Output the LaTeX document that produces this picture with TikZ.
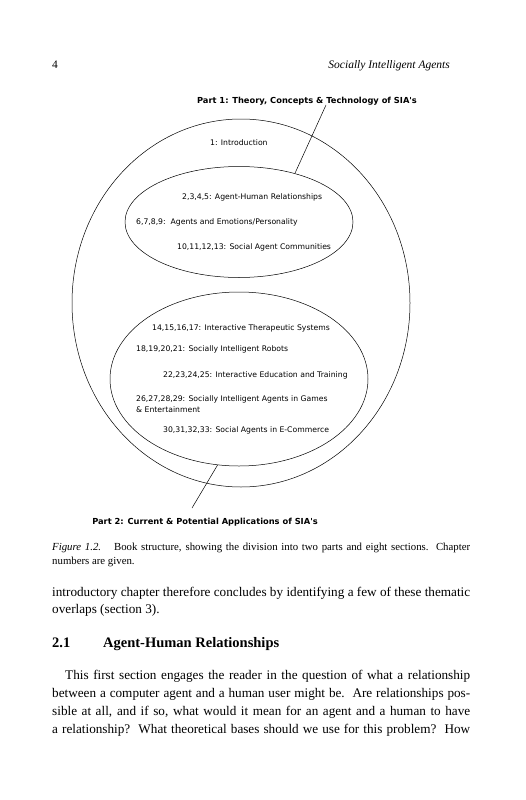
\documentclass[tikz,border=0pt]{standalone}
\usepackage{fontspec}
\setmainfont{Liberation Serif}
\newfontfamily\sketchfont{DejaVu Sans}
\usetikzlibrary{shapes.geometric}
\tikzset{
  oval/.style={draw,ellipse,inner sep=0pt,line width=0.5pt},
  parttitle/.style={font=\sketchfont\bfseries\fontsize{8.3}{10}\selectfont,inner sep=0pt},
  chap/.style={font=\sketchfont\fontsize{7.7}{11}\selectfont,inner sep=0pt,anchor=west,align=left},
  txt/.style={inner sep=0pt,anchor=base west,font=\fontsize{13.2}{15}\selectfont},
  captext/.style={inner sep=0pt,anchor=base west,font=\fontsize{10.8}{12}\selectfont},
}
\begin{document}
\begin{tikzpicture}[x=1pt,y=-1pt]
    \useasboundingbox (0,0) rectangle (525,800);
    \node[txt,font=\fontsize{11.5}{14}\selectfont] (pg) at (52,69) {4};
    \node[txt,font=\fontsize{11.5}{14}\selectfont,anchor=base east] (run) at (450,69) {\itshape Socially Intelligent Agents};
    \node[oval,minimum width=338,minimum height=368] (book) at (241,303) {};
    \node[oval,minimum width=228,minimum height=111] (part1oval) at (239,222) {};
    \node[oval,minimum width=258,minimum height=174] (part2oval) at (239,379) {};
    \node[parttitle] (p1) at (307,101) {Part 1: Theory, Concepts \& Technology of SIA's};
    \node[chap] (c1) at (210,143) {1: Introduction};
    \node[chap] (c2) at (182,197) {2,3,4,5: Agent-Human Relationships};
    \node[chap] (c6) at (136,222) {6,7,8,9:\ \ Agents and Emotions/Personality};
    \node[chap] (c10) at (177,247) {10,11,12,13: Social Agent Communities};
    \node[chap] (c14) at (152,328) {14,15,16,17: Interactive Therapeutic Systems};
    \node[chap] (c18) at (136,349) {18,19,20,21: Socially Intelligent Robots};
    \node[chap] (c22) at (163,375) {22,23,24,25: Interactive Education and Training};
    \node[chap] (c26) at (136,404) {26,27,28,29: Socially Intelligent Agents in Games\\\& Entertainment};
    \node[chap] (c30) at (163,430) {30,31,32,33: Social Agents in E-Commerce};
    \node[parttitle] (p2) at (205,522) {Part 2: Current \& Potential Applications of SIA's};
    \coordinate (p1tip) at (326,105);
    \coordinate (p2tip) at (192,508);
    \draw[line width=0.5pt] (p1tip) -- (part1oval.41);
    \draw[line width=0.5pt] (part2oval.256) -- (p2tip);
    \node[captext] (fig) at (52,550) {\makebox[418pt][s]{\textit{Figure 1.2.}\hspace{1.2em}Book structure, showing the division into two parts and eight sections.\ \ Chapter}};
    \node[captext] (fig2) at (52,564) {numbers are given.};
    \node[txt] (l1) at (52,596) {\makebox[418pt][s]{introductory chapter therefore concludes by identifying a few of these thematic}};
    \node[txt] (l2) at (52,613) {overlaps (section 3).};
    \node[txt,font=\bfseries\fontsize{14.5}{17}\selectfont] (secno) at (52,647) {2.1};
    \node[txt,font=\bfseries\fontsize{14.5}{17}\selectfont] (sec) at (103,647) {Agent-Human Relationships};
    \node[txt] (l3) at (65,679) {\makebox[405pt][s]{This first section engages the reader in the question of what a relationship}};
    \node[txt] (l4) at (52,697) {\makebox[418pt][s]{between a computer agent and a human user might be.\ \ Are relationships pos-}};
    \node[txt] (l5) at (52,715) {\makebox[418pt][s]{sible at all, and if so, what would it mean for an agent and a human to have}};
    \node[txt] (l6) at (52,733) {\makebox[418pt][s]{a relationship?\ \ What theoretical bases should we use for this problem?\ \ How}};
\end{tikzpicture}
\end{document}
